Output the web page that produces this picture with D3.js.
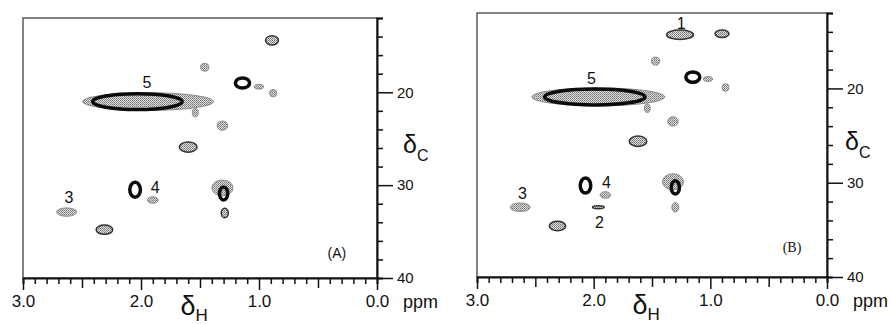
<!DOCTYPE html>
<html>
<head>
<meta charset="utf-8">
<script src="https://cdn.jsdelivr.net/npm/d3@7"></script>
<style>
  body { margin: 0; background: #fff; }
  svg { display: block; }
  text { font-family: "Liberation Sans", Arial, sans-serif; fill: #111; }
</style>
</head>
<body>
<svg id="chart" width="891" height="324"></svg>
<script>
// cross peaks: [dH (ppm), dC (ppm), width in H (ppm), width in C (ppm), contour level]
const peaksA = [
  [1.94, 21.0, 1.11, 1.9, 1],
  [2.03, 21.0, 0.76, 1.7, 3],
  [1.54, 22.2, 0.05, 0.9, 1],
  [0.89, 14.4, 0.11, 1.0, 2],
  [1.46, 17.3, 0.07, 0.85, 1],
  [1.14, 19.0, 0.12, 1.1, 3],
  [1.00, 19.4, 0.08, 0.5, 1],
  [0.88, 20.1, 0.06, 0.8, 1],
  [1.31, 23.6, 0.09, 1.0, 1],
  [1.60, 25.9, 0.15, 1.1, 2],
  [2.05, 30.5, 0.09, 1.6, 3],
  [1.90, 31.6, 0.09, 0.7, 1],
  [1.31, 30.3, 0.18, 1.7, 1],
  [1.30, 30.9, 0.07, 1.4, 3],
  [1.29, 33.0, 0.06, 1.0, 2],
  [2.63, 32.9, 0.17, 0.9, 1],
  [2.31, 34.8, 0.14, 1.0, 2]
];
const peaksB = [
  [1.96, 20.9, 1.14, 1.9, 1],
  [1.99, 20.9, 0.86, 1.7, 3],
  [1.54, 22.1, 0.05, 0.9, 1],
  [1.26, 14.3, 0.23, 1.0, 2],
  [0.90, 14.2, 0.12, 0.8, 2],
  [1.47, 17.1, 0.07, 0.85, 1],
  [1.15, 18.8, 0.12, 1.1, 3],
  [1.02, 19.0, 0.08, 0.5, 1],
  [0.87, 19.9, 0.06, 0.8, 1],
  [1.32, 23.5, 0.09, 1.0, 1],
  [1.62, 25.6, 0.15, 1.1, 2],
  [2.07, 30.3, 0.09, 1.6, 3],
  [1.90, 31.3, 0.09, 0.7, 1],
  [1.96, 32.6, 0.10, 0.3, 2],
  [1.32, 29.9, 0.18, 1.7, 1],
  [1.30, 30.5, 0.07, 1.4, 3],
  [1.30, 32.6, 0.06, 1.0, 1],
  [2.63, 32.6, 0.17, 0.9, 1],
  [2.31, 34.6, 0.14, 1.0, 2]
];

// peak numbers and panel tags: [text, dH, dC]
const labelsA = [["5", 1.95, 18.9], ["4", 1.88, 30.2], ["3", 2.61, 31.3], ["(A)", 0.34, 37.3]];
const labelsB = [["1", 1.25, 13.1], ["5", 2.02, 18.9], ["4", 1.89, 30.0], ["2", 1.95, 34.2],
                 ["3", 2.61, 31.1], ["(B)", 0.30, 36.9]];

const hDomain = [3.0, 0.0];
const cDomain = [12, 40];
const hTickValues = d3.range(0, 31).map(i => i / 10);
const hMajor = [3, 2, 1, 0];
const cTickValues = d3.range(12, 41, 2);
const cMajor = [20, 30, 40];

const svg = d3.select("#chart");

// halftone look of the scanned contours
const defs = svg.append("defs");
const pat = defs.append("pattern")
    .attr("id", "stip")
    .attr("width", 2)
    .attr("height", 2)
    .attr("patternUnits", "userSpaceOnUse");
pat.append("rect").attr("width", 2).attr("height", 2).attr("fill", "#e0e0e0");
pat.append("rect").attr("width", 1).attr("height", 1).attr("fill", "#707070");
pat.append("rect").attr("x", 1).attr("y", 1).attr("width", 1).attr("height", 1).attr("fill", "#909090");

const panels = [
  {peaks: peaksA, labels: labelsA, left: 23, right: 377, top: 18, bottom: 278, dcDx: 26, tagFont: "Liberation Sans"},
  {peaks: peaksB, labels: labelsB, left: 477, right: 827, top: 13, bottom: 277, dcDx: 18, tagFont: "Liberation Serif"}
];

panels.forEach(p => {
  const x = d3.scaleLinear().domain(hDomain).range([p.left, p.right]);
  const y = d3.scaleLinear().domain(cDomain).range([p.top, p.bottom]);
  const g = svg.append("g");

  // Peaks, weak contours first.
  const peaks = p.peaks.slice().sort((a, b) => a[4] - b[4]);
  g.selectAll("ellipse.peak")
    .data(peaks)
    .join("ellipse")
      .attr("class", "peak")
      .attr("cx", d => x(d[0]))
      .attr("cy", d => y(d[1]))
      .attr("rx", d => Math.abs(x(d[0] + d[2] / 2) - x(d[0] - d[2] / 2)) / 2)
      .attr("ry", d => Math.abs(y(d[1] + d[3] / 2) - y(d[1] - d[3] / 2)) / 2)
      .attr("fill", d => d[4] === 3 ? "none" : "url(#stip)")
      .attr("stroke", d => d[4] === 1 ? "#8a8a8a" : d[4] === 2 ? "#333" : "#0a0a0a")
      .attr("stroke-width", d => d[4] === 1 ? 1 : d[4] === 2 ? 1.5 : 3.5);

  // Frame.
  g.append("rect")
      .attr("x", p.left)
      .attr("y", p.top)
      .attr("width", p.right - p.left)
      .attr("height", p.bottom - p.top)
      .attr("fill", "none")
      .attr("stroke", "#333")
      .attr("stroke-width", 1.2);

  // Bottom axis.
  const gx = g.append("g")
      .attr("transform", `translate(0,${p.bottom})`)
      .call(d3.axisBottom(x)
        .tickValues(hTickValues)
        .tickSizeOuter(0)
        .tickSize(6)
        .tickFormat(d => hMajor.includes(d) ? d.toFixed(1) : ""));
  gx.select(".domain").attr("stroke", "#111").attr("stroke-width", 2);
  gx.selectAll(".tick line")
      .attr("stroke", "#111")
      .attr("stroke-width", 1.5)
      .attr("y2", d => hMajor.includes(d) ? 12 : Math.abs(d * 10 % 10 - 5) < 0.01 ? 10 : 6);
  gx.selectAll(".tick text")
      .attr("y", 17)
      .style("font-size", "17px")
      .style("font-family", "Liberation Sans")
      .attr("fill", "#111");

  // Right axis.
  const gy = g.append("g")
      .attr("transform", `translate(${p.right},0)`)
      .call(d3.axisRight(y)
        .tickValues(cTickValues)
        .tickSizeOuter(0)
        .tickSize(6)
        .tickFormat(d => cMajor.includes(d) ? d : ""));
  gy.select(".domain").attr("stroke", "#111").attr("stroke-width", 2);
  gy.selectAll(".tick line")
      .attr("stroke", "#111")
      .attr("stroke-width", 1.5)
      .attr("x2", d => cMajor.includes(d) ? 16 : 6);
  gy.selectAll(".tick text")
      .attr("x", 20)
      .style("font-size", "15px")
      .style("font-family", "Liberation Sans")
      .attr("fill", "#111");

  // "ppm" after the 0.0 label.
  g.append("text")
      .attr("x", p.right + 26)
      .attr("y", p.bottom + 30)
      .style("font-size", "18px")
      .text("ppm");

  // δH
  const th = g.append("text")
      .attr("x", x(1.55))
      .attr("y", p.bottom + 37)
      .attr("text-anchor", "middle");
  th.append("tspan").style("font-size", "27px").text("δ");
  th.append("tspan").style("font-size", "17px").attr("dy", 6).text("H");

  // δC
  const tc = g.append("text")
      .attr("x", p.right + p.dcDx)
      .attr("y", y(26.5));
  tc.append("tspan").style("font-size", "25px").text("δ");
  tc.append("tspan").style("font-size", "16px").attr("dy", 8).text("C");

  // Peak numbers and panel tag.
  g.selectAll("text.lab")
    .data(p.labels)
    .join("text")
      .attr("class", "lab")
      .attr("x", d => x(d[1]))
      .attr("y", d => y(d[2]))
      .attr("text-anchor", "middle")
      .attr("dominant-baseline", "central")
      .style("font-size", d => d[0].startsWith("(") ? "14px" : "16px")
      .style("font-family", d => d[0].startsWith("(") ? p.tagFont : "Liberation Sans")
      .text(d => d[0]);
});
</script>
</body>
</html>
